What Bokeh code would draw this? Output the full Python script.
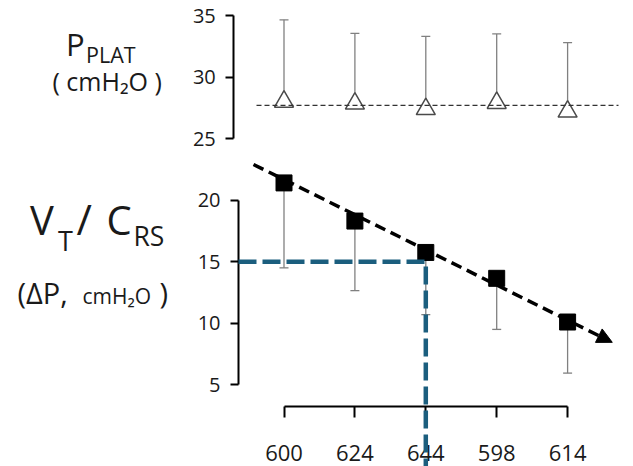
from bokeh.plotting import figure
from bokeh.models import (LinearAxis, FixedTicker, Range1d, Whisker, TeeHead,
                          Arrow, NormalHead, Label, ColumnDataSource)
from bokeh.embed import file_html
from bokeh.resources import INLINE

# ---------------- data ----------------
categories = ["600", "624", "644", "598", "614"]
pplat_mean = [28.0, 27.85, 27.4, 27.9, 27.2]
pplat_upper = [34.65, 33.55, 33.3, 33.5, 32.8]
pplat_ref = 27.7
dp_mean = [21.4, 18.3, 15.75, 13.65, 10.1]
dp_lower = [14.5, 12.65, 10.7, 9.5, 5.95]
trend_x = [-0.43, 4.63]
trend_y = [22.9, 8.45]
target_x = 2
target_y = 15
top_ticks = [25, 30, 35]
bottom_ticks = [5, 10, 15, 20]

# ---------------- layout helpers (pixel -> data) ----------------
W, H = 633, 466
X0_PX, DX_PX = 283.5, 70.9
Y20_PX, DY_PX = 199.65, 12.31


def xd(px):
    return (px - X0_PX) / DX_PX


def yd(py):
    return 20 + (Y20_PX - py) / DY_PX


xs = list(range(len(categories)))

p = figure(width=W, height=H,
           x_range=Range1d(xd(0), xd(W)), y_range=Range1d(yd(H), yd(0)),
           min_border=0, x_axis_location=None, y_axis_location=None,
           toolbar_location=None, output_backend="svg",
           outline_line_color=None, background_fill_color="white",
           border_fill_color="white")
p.grid.visible = False

FONT = "Open Sans"
TXT = "#1a1a1a"

common_axis = dict(axis_line_width=2, axis_line_color="black",
                   major_tick_line_width=2, major_tick_line_color="black",
                   major_tick_in=0, minor_tick_in=0, minor_tick_out=0,
                   major_label_text_font=FONT, major_label_text_color=TXT)

# bottom-panel y axis
yb = LinearAxis(fixed_location=xd(238), bounds=(5, 20),
                ticker=FixedTicker(ticks=bottom_ticks),
                major_tick_out=8, major_label_standoff=10,
                major_label_text_font_size="20px", **common_axis)
p.add_layout(yb, "left")

# top-panel y axis
yt = LinearAxis(fixed_location=xd(233.3), bounds=(25, 35),
                ticker=FixedTicker(ticks=top_ticks),
                major_tick_out=8, major_label_standoff=10,
                major_label_text_font_size="20px", **common_axis)
p.add_layout(yt, "left")

# x axis
xa = LinearAxis(fixed_location=yd(406), bounds=(0, len(categories) - 1),
                ticker=FixedTicker(ticks=xs),
                major_label_overrides={i: c for i, c in enumerate(categories)},
                major_tick_out=11, major_label_standoff=27,
                major_label_text_font_size="22px", **common_axis)
p.add_layout(xa, "below")

# ---------------- top panel ----------------
top_src = ColumnDataSource(dict(x=xs, mean=pplat_mean, upper=pplat_upper))
wt = Whisker(base="x", upper="upper", lower="mean", source=top_src,
             dimension="height", line_color="#808080", line_width=1.3,
             upper_head=TeeHead(size=9, line_color="#808080", line_width=1.3),
             lower_head=None, level="underlay")
p.add_layout(wt)
p.scatter("x", "mean", source=top_src, marker="triangle", size=19,
          fill_color="white", line_color="#4a4a4a", line_width=1.5)
p.line(x=[xd(256), xd(618)], y=[pplat_ref, pplat_ref], line_color="#333333",
       line_width=1.3, line_dash="5 3")

# ---------------- bottom panel ----------------
bot_src = ColumnDataSource(dict(x=xs, mean=dp_mean, lower=dp_lower))
wb = Whisker(base="x", upper="mean", lower="lower", source=bot_src,
             dimension="height", line_color="#808080", line_width=1.3,
             lower_head=TeeHead(size=9, line_color="#808080", line_width=1.3),
             upper_head=None, level="underlay")
p.add_layout(wb)
p.scatter("x", "mean", source=bot_src, marker="square", size=16,
          fill_color="black", line_color="black")

arrow = Arrow(x_start=trend_x[0], y_start=trend_y[0],
              x_end=trend_x[1], y_end=trend_y[1],
              line_color="black", line_width=3.5, line_dash="11 6",
              start=None,
              end=NormalHead(size=15, fill_color="black", line_color="black",
                             line_width=1))
p.add_layout(arrow)

# blue guide line to the target point
p.line(x=[xd(238), target_x, target_x], y=[target_y, target_y, yd(H + 30)],
       line_color="#1b5e7e", line_width=4.5, line_dash="18 6", level="overlay")

# ---------------- left-side titles ----------------
# (text, left px, baseline px, font px)
labels = [
    ("P", 65.5, 56.7, 31),
    ("PLAT", 85.5, 63.3, 21.5),
    ("( cmH\u2082O )", 52, 91.7, 25),
    ("V", 29.5, 236.7, 40),
    ("T", 57.5, 251.7, 27),
    ("/", 76, 236.7, 42),
    ("C", 106, 236.7, 40),
    ("RS", 133, 246.7, 26.5),
    ("(\u0394P,", 17, 305, 29),
    ("cmH\u2082O", 82, 305, 21),
    (")", 159, 305, 29),
]
BASE_CORR = 0.44
for txt, px, py, fs in labels:
    p.add_layout(Label(x=xd(px), y=yd(py - BASE_CORR * fs), text=txt,
                       text_font=FONT, text_font_size=f"{fs}px",
                       text_color=TXT, text_align="left",
                       text_baseline="alphabetic"))

open("out.html", "w").write(file_html(p, INLINE))
